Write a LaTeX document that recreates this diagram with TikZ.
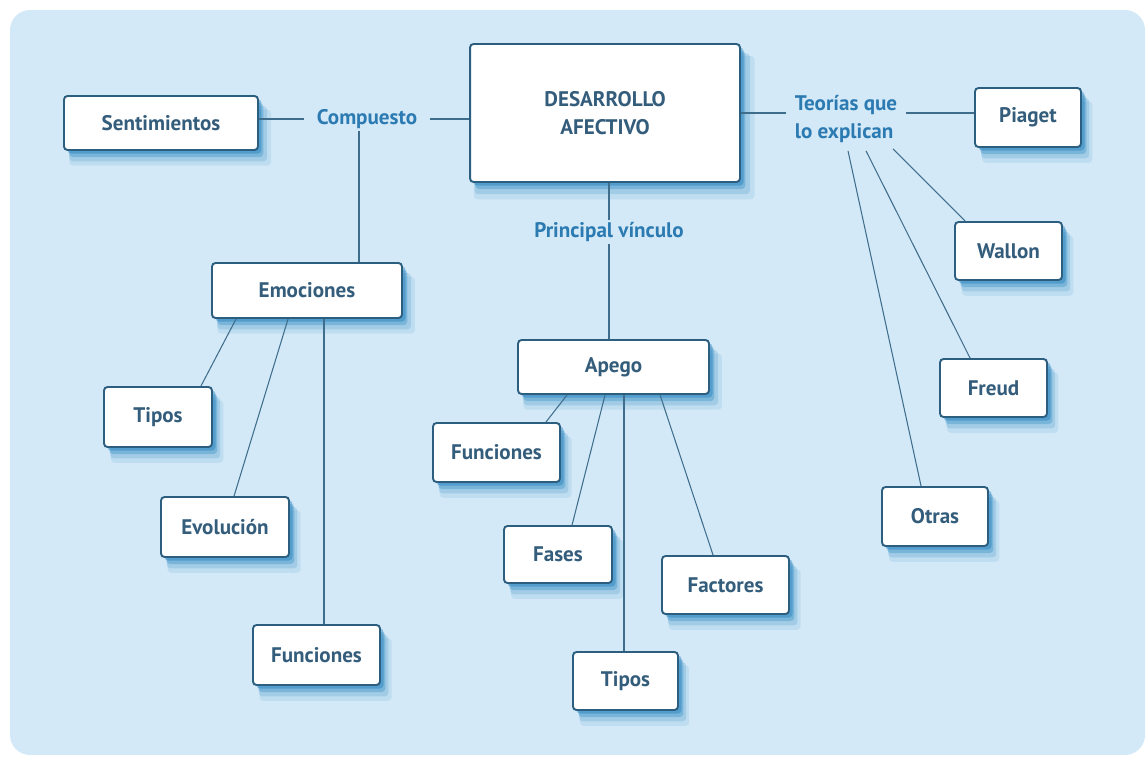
\documentclass[tikz,border=0pt]{standalone}
\usepackage{fontspec}
\setmainfont{PT Sans}
\usetikzlibrary{positioning, calc, shadows}
\definecolor{bgBlue}{HTML}{D4E9F7}
\definecolor{boxLine}{HTML}{2C5F7F}
\definecolor{boxText}{HTML}{345D7C}
\definecolor{labelText}{HTML}{2B7AB2}
\definecolor{linkLine}{HTML}{3F6D8C}
\definecolor{shadowBlue}{HTML}{2F88C2}

\begin{document}
\begin{tikzpicture}[x=0.02cm, y=-0.02cm,
	conceptBox/.style={draw=boxLine, line width=1.1pt, fill=white, rounded corners=2pt,
		text=boxText, font=\bfseries\fontsize{12}{16}\selectfont, align=center, inner sep=0pt,
		drop shadow={shadow xshift=5pt, shadow yshift=-8pt, shadow scale=1.04, fill=shadowBlue, opacity=0.12},
		drop shadow={shadow xshift=4pt, shadow yshift=-6pt, shadow scale=1.02, fill=shadowBlue, opacity=0.2},
		drop shadow={shadow xshift=3pt, shadow yshift=-4pt, fill=shadowBlue, opacity=0.35},
		drop shadow={shadow xshift=2pt, shadow yshift=-2pt, fill=shadowBlue, opacity=0.5}},
	linkLabel/.style={text=labelText, font=\bfseries\fontsize{12}{16}\selectfont, align=left,
		inner xsep=5pt, inner ysep=1pt},
	link/.style={draw=linkLine, line width=0.6pt},
	mainLink/.style={draw=linkLine, line width=1.3pt}]
	
	\useasboundingbox (0,0) rectangle (1148,758);
	\fill[bgBlue, rounded corners=0.4cm] (10,10) rectangle (1145,755);
	
	%Nodes in the top part of the map
	\node (mainBox) at (605,113) [conceptBox, minimum width=5.4cm, minimum
	height=2.76cm]{DESARROLLO\\AFECTIVO};
	
	\node (sentimientosBox) at (161,123) [conceptBox, minimum width=3.88cm, minimum
	height=1.08cm]{Sentimientos};
	
	\node (compuestoLabel) at (367,119) [linkLabel, inner xsep=7pt]{Compuesto};
	
	\node (vinculoLabel) at (609,232) [linkLabel]{Principal vínculo};
	
	\node (teoriasLabel) at (846,119) [linkLabel]{Teorías que\\lo explican};
	
	%Links
	\draw[link] (sentimientosBox.east |- compuestoLabel.west) -- (compuestoLabel.west);
	
	\draw[link] (compuestoLabel.east) -- (mainBox.west |- compuestoLabel.east);
	
	\draw[link] (mainBox.east) -- (mainBox.east -| teoriasLabel.west);
	
	\draw[link] (vinculoLabel.north |- mainBox.south) -- (vinculoLabel.north);
	
	
	%Nodes of the emotions branch
	\node (emocionesBox) at (307,290.5) [conceptBox, minimum width=3.8cm, minimum
	height=1.1cm]{Emociones};
	
	\node (tiposEmoBox) at (158,417) [conceptBox, minimum width=2.16cm, minimum
	height=1.2cm]{Tipos};
	
	\node (evolucionBox) at (225,527) [conceptBox, minimum width=2.56cm, minimum
	height=1.2cm]{Evolución};
	
	\node (funcionesEmoBox) at (316.5,655) [conceptBox, minimum width=2.54cm, minimum
	height=1.2cm]{Funciones};
	
	%Links among blocks
	\coordinate (compuestoDrop) at ($(compuestoLabel.south)+(-8,0)$);
	\draw[link] (compuestoDrop) -- (compuestoDrop |- emocionesBox.north);
	
	\draw[link] ($(emocionesBox.south west)+(25,0)$) -- ($(tiposEmoBox.north east)+(-12,0)$);
	
	\draw[link] ($(emocionesBox.south west)+(77,0)$) -- ($(evolucionBox.north west)+(74,0)$);
	
	\coordinate (emocionesDrop) at ($(emocionesBox.south west)+(113,0)$);
	\draw[mainLink] (emocionesDrop) -- (emocionesDrop |- funcionesEmoBox.north);
	
	
	%Nodes of the attachment branch
	\node (apegoBox) at (613.5,367) [conceptBox, minimum width=3.82cm, minimum
	height=1.08cm]{Apego};
	
	\node (funcionesApeBox) at (496.5,452.5) [conceptBox, minimum width=2.54cm, minimum
	height=1.18cm]{Funciones};
	
	\node (fasesBox) at (558,554.5) [conceptBox, minimum width=2.16cm, minimum
	height=1.14cm]{Fases};
	
	\node (factoresBox) at (725.5,585) [conceptBox, minimum width=2.54cm, minimum
	height=1.16cm]{Factores};
	
	\node (tiposApeBox) at (625.5,681) [conceptBox, minimum width=2.1cm, minimum
	height=1.16cm]{Tipos};
	
	%Links among blocks
	\draw[link] (vinculoLabel.south) -- (vinculoLabel.south |- apegoBox.north);
	
	\draw[link] ($(apegoBox.south west)+(50,0)$) -- ($(funcionesApeBox.north east)+(-15,0)$);
	
	\draw[link] ($(apegoBox.south west)+(88,0)$) -- ($(fasesBox.north west)+(69,0)$);
	
	\coordinate (apegoDrop) at ($(apegoBox.south west)+(107,0)$);
	\draw[mainLink] (apegoDrop) -- (apegoDrop |- tiposApeBox.north);
	
	\draw[link] ($(apegoBox.south west)+(143,0)$) -- ($(factoresBox.north west)+(52,0)$);
	
	
	%Nodes of the theories branch
	\node (piagetBox) at (1028,117.5) [conceptBox, minimum width=2.12cm, minimum
	height=1.18cm]{Piaget};
	
	\node (wallonBox) at (1008.5,251) [conceptBox, minimum width=2.14cm, minimum
	height=1.16cm]{Wallon};
	
	\node (freudBox) at (993.5,388) [conceptBox, minimum width=2.14cm, minimum
	height=1.16cm]{Freud};
	
	\node (otrasBox) at (935,516.5) [conceptBox, minimum width=2.12cm, minimum
	height=1.18cm]{Otras};
	
	%Links among blocks
	\draw[link] (teoriasLabel.east |- mainBox.east) -- (piagetBox.west |- mainBox.east);
	
	\draw[link] ($(teoriasLabel.south)+(47,4)$) -- ($(wallonBox.north west)+(11,0)$);
	
	\draw[link] ($(teoriasLabel.south)+(20,6)$) -- ($(freudBox.north west)+(31,0)$);
	
	\draw[link] ($(teoriasLabel.south)+(2,6)$) -- ($(otrasBox.north west)+(40,0)$);
	
\end{tikzpicture}
\end{document}
